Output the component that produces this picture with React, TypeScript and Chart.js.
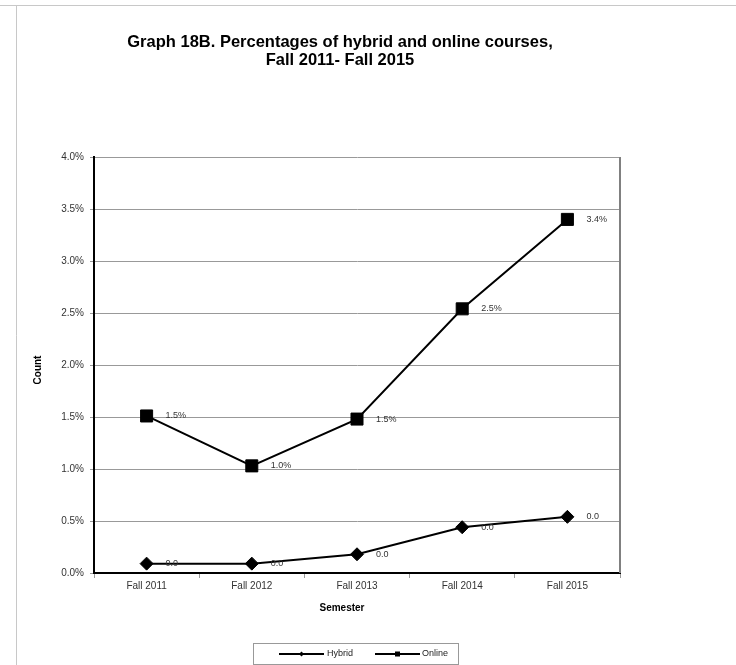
import React, { useEffect, useRef } from 'react';
import { Chart, registerables } from 'chart.js';

Chart.register(...registerables);

const categories = ['Fall 2011', 'Fall 2012', 'Fall 2013', 'Fall 2014', 'Fall 2015'];
const seriesNames = ['Hybrid', 'Online'];
const hybridValues = [0.09, 0.09, 0.18, 0.44, 0.54];
const onlineValues = [1.51, 1.03, 1.48, 2.54, 3.4];
const yMin = 0;
const yMax = 4;
const yStep = 0.5;
const titleLines = ['Graph 18B. Percentages of hybrid and online courses,', 'Fall 2011- Fall 2015'];
const xTitle = 'Semester';
const yTitle = 'Count';

const FONT = "Arial, 'Liberation Sans', sans-serif";

const decorPlugin = {
  id: 'decor',
  afterDraw(chart: any) {
    const ctx = chart.ctx as CanvasRenderingContext2D;
    const area = chart.chartArea;
    ctx.save();

    // page frame lines
    ctx.strokeStyle = '#c8c8c8';
    ctx.lineWidth = 1;
    ctx.beginPath();
    ctx.moveTo(0, 5.5);
    ctx.lineTo(736, 5.5);
    ctx.moveTo(16.5, 5.5);
    ctx.lineTo(16.5, 665);
    ctx.stroke();

    // right plot border
    ctx.strokeStyle = '#808080';
    ctx.lineWidth = 2;
    ctx.beginPath();
    ctx.moveTo(area.right, area.top);
    ctx.lineTo(area.right, area.bottom);
    ctx.stroke();

    // title
    ctx.fillStyle = '#000';
    ctx.font = `bold 16.5px ${FONT}`;
    ctx.textAlign = 'center';
    ctx.textBaseline = 'alphabetic';
    ctx.fillText(titleLines[0], 340, 46.5);
    ctx.fillText(titleLines[1], 340, 65);

    // axis titles
    ctx.textBaseline = 'middle';
    ctx.font = `bold 10px ${FONT}`;
    ctx.fillText(xTitle, 342, 608);
    ctx.save();
    ctx.translate(38, 370);
    ctx.rotate(-Math.PI / 2);
    ctx.fillText(yTitle, 0, 0);
    ctx.restore();

    // data labels
    ctx.font = `9px ${FONT}`;
    ctx.fillStyle = '#333';
    ctx.textAlign = 'left';
    chart.data.datasets.forEach((ds: any, i: number) => {
      const meta = chart.getDatasetMeta(i);
      meta.data.forEach((pt: any, j: number) => {
        const v = ds.data[j] as number;
        const txt = i === 0 ? (v / 100).toFixed(1) : v.toFixed(1) + '%';
        ctx.fillText(txt, pt.x + 19, pt.y);
      });
    });

    // legend
    ctx.strokeStyle = '#999';
    ctx.lineWidth = 1;
    ctx.strokeRect(253.5, 643.5, 205, 21);
    const ly = 654;
    const items = [
      { x0: 279, x1: 324, tx: 327, style: 'diamond' },
      { x0: 375, x1: 420, tx: 422, style: 'square' },
    ];
    items.forEach((it, i) => {
      ctx.strokeStyle = '#000';
      ctx.lineWidth = 2;
      ctx.beginPath();
      ctx.moveTo(it.x0, ly);
      ctx.lineTo(it.x1, ly);
      ctx.stroke();
      const mx = (it.x0 + it.x1) / 2;
      ctx.fillStyle = '#000';
      if (it.style === 'square') {
        ctx.fillRect(mx - 2.5, ly - 2.5, 5, 5);
      } else {
        ctx.beginPath();
        ctx.moveTo(mx - 2.5, ly);
        ctx.lineTo(mx, ly - 2.5);
        ctx.lineTo(mx + 2.5, ly);
        ctx.lineTo(mx, ly + 2.5);
        ctx.closePath();
        ctx.fill();
      }
      ctx.fillStyle = '#222';
      ctx.font = `9px ${FONT}`;
      ctx.textAlign = 'left';
      ctx.fillText(seriesNames[i], it.tx, ly);
    });

    ctx.restore();
  },
};

export default function App() {
  const canvasRef = useRef<HTMLCanvasElement>(null);

  useEffect(() => {
    document.body.style.margin = '0';
    const canvas = canvasRef.current;
    if (!canvas) return;
    const chart = new Chart(canvas, {
      type: 'line',
      data: {
        labels: categories,
        datasets: [
          {
            label: seriesNames[0],
            data: hybridValues,
            borderColor: '#000',
            backgroundColor: '#000',
            borderWidth: 2,
            pointStyle: 'rectRot',
            pointRadius: 6.5,
            pointBorderWidth: 1,
            pointBackgroundColor: '#000',
            pointBorderColor: '#000',
            tension: 0,
          },
          {
            label: seriesNames[1],
            data: onlineValues,
            borderColor: '#000',
            backgroundColor: '#000',
            borderWidth: 2,
            pointStyle: 'rect',
            pointRadius: 8.5,
            pointBorderWidth: 1,
            pointBackgroundColor: '#000',
            pointBorderColor: '#000',
            tension: 0,
          },
        ],
      },
      options: {
        responsive: false,
        animation: false,
        devicePixelRatio: 1,
        layout: { padding: { left: 34, right: 116, top: 157, bottom: 62 } },
        plugins: {
          legend: { display: false },
          title: { display: false },
          tooltip: { enabled: false },
        },
        scales: {
          x: {
            type: 'category',
            offset: true,
            afterFit: (s: any) => { s.height = 30; },
            grid: {
              offset: true,
              drawOnChartArea: false,
              drawTicks: true,
              tickLength: 5,
              color: '#999',
            },
            border: { color: '#000', width: 2 },
            ticks: {
              font: { family: FONT, size: 10 },
              color: '#333',
              padding: 2,
              maxRotation: 0,
              autoSkip: false,
            },
          },
          y: {
            min: yMin,
            max: yMax,
            afterFit: (s: any) => { s.width = 60; },
            grid: {
              color: '#999',
              lineWidth: 1,
              drawTicks: true,
              tickLength: 4,
            },
            border: { color: '#000', width: 2 },
            ticks: {
              stepSize: yStep,
              font: { family: FONT, size: 10 },
              color: '#333',
              padding: 6,
              callback: (v: any) => Number(v).toFixed(1) + '%',
            },
          },
        },
      },
      plugins: [decorPlugin],
    });
    return () => chart.destroy();
  }, []);

  return (
    <div style={{ position: 'absolute', left: 0, top: 0, width: 736, height: 665, background: '#fff' }}>
      <canvas ref={canvasRef} width={736} height={665} style={{ display: 'block' }} />
    </div>
  );
}
